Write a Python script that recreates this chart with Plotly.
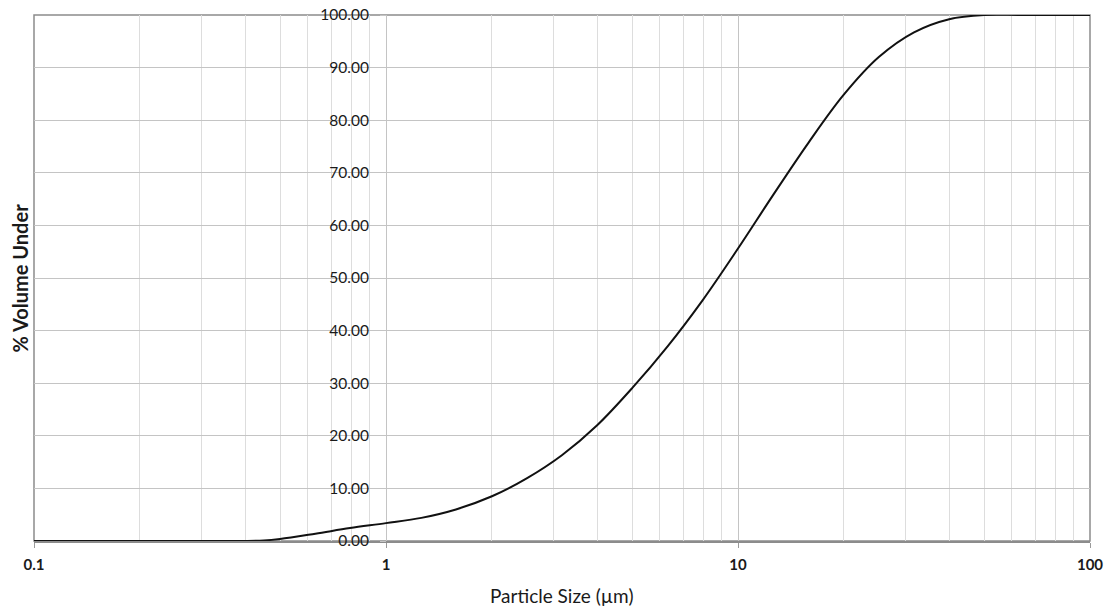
import plotly.graph_objects as go

# Particle size distribution (cumulative % volume under)
size_um = [0.1, 0.2, 0.3, 0.4, 0.45, 0.5, 0.63, 0.79, 1.0, 1.26, 1.58, 2.0, 2.51, 3.16, 3.98, 5.01,
           6.31, 7.94, 10.0, 12.59, 15.85, 19.95, 25.12, 31.62, 39.81, 50.12, 63.1, 79.4, 100.0]
pct_under = [0.0, 0.0, 0.0, 0.0, 0.1, 0.4, 1.4, 2.45, 3.4, 4.4, 6.0, 8.5, 11.9, 16.3, 22.0, 29.1,
             37.0, 45.8, 55.6, 65.8, 75.7, 84.8, 92.0, 96.7, 99.2, 100.0, 100.0, 100.0, 100.0]

x_tick_vals = [0.1, 1, 10, 100]
x_tick_text = ["0.1", "1", "10", "100"]
x_minor_vals = [0.2, 0.3, 0.4, 0.5, 0.6, 0.7, 0.8, 0.9,
                2, 3, 4, 5, 6, 7, 8, 9,
                20, 30, 40, 50, 60, 70, 80, 90]
y_tick_vals = [0, 10, 20, 30, 40, 50, 60, 70, 80, 90, 100]

x_title = "Particle Size (µm)"
y_title = "% Volume Under"

FONT = "Lato, 'Open Sans', sans-serif"

fig = go.Figure()
fig.add_trace(go.Scatter(
    x=size_um, y=pct_under, mode="lines",
    line=dict(color="#111111", width=2, shape="spline", smoothing=1.0),
    hoverinfo="x+y", showlegend=False,
))

fig.update_layout(
    width=1110, height=610,
    margin=dict(l=34, r=20, t=15, b=69),
    paper_bgcolor="white", plot_bgcolor="white",
    font=dict(family=FONT, color="#1a1a1a", size=12),
    xaxis=dict(
        type="log", range=[-1, 2], domain=[0, 1], automargin=False,
        tickmode="array", tickvals=x_tick_vals, ticktext=x_tick_text,
        ticks="outside", ticklen=5, tickcolor="#9a9a9a",
        ticklabelstandoff=4,
        tickfont=dict(size=15, color="#1a1a1a", weight="bold"),
        showgrid=True, gridcolor="#c4c4c4", gridwidth=1,
        minor=dict(tickmode="array", tickvals=x_minor_vals, showgrid=True,
                   gridcolor="#dddddd", gridwidth=1, ticks=""),
        showline=True, linecolor="#8c8c8c", linewidth=1.5,
        zeroline=False,
    ),
    yaxis=dict(
        range=[0, 100], anchor="free", position=1/3, automargin=False,
        tickmode="array", tickvals=y_tick_vals, tickformat=".2f",
        ticks="outside", ticklen=6, tickcolor="#c4c4c4",
        ticklabelstandoff=8,
        tickfont=dict(size=15.5, color="#1a1a1a"),
        showgrid=True, gridcolor="#c4c4c4", gridwidth=1,
        showline=False, zeroline=False,
    ),
    shapes=[dict(type="rect", xref="paper", yref="paper", x0=0, x1=1, y0=0, y1=1,
                 line=dict(color="#8c8c8c", width=1.5), layer="below")],
    annotations=[
        dict(text="<b>" + y_title + "</b>", xref="paper", yref="paper",
             x=-0.0137, y=0.5, xanchor="center", yanchor="middle", textangle=-90,
             showarrow=False, font=dict(size=20, color="#1a1a1a")),
        dict(text=x_title, xref="paper", yref="paper",
             x=0.5, y=-54 / 526, xanchor="center", yanchor="middle",
             showarrow=False, font=dict(size=19, color="#1a1a1a")),
    ],
)

fig.write_html("out.html")
